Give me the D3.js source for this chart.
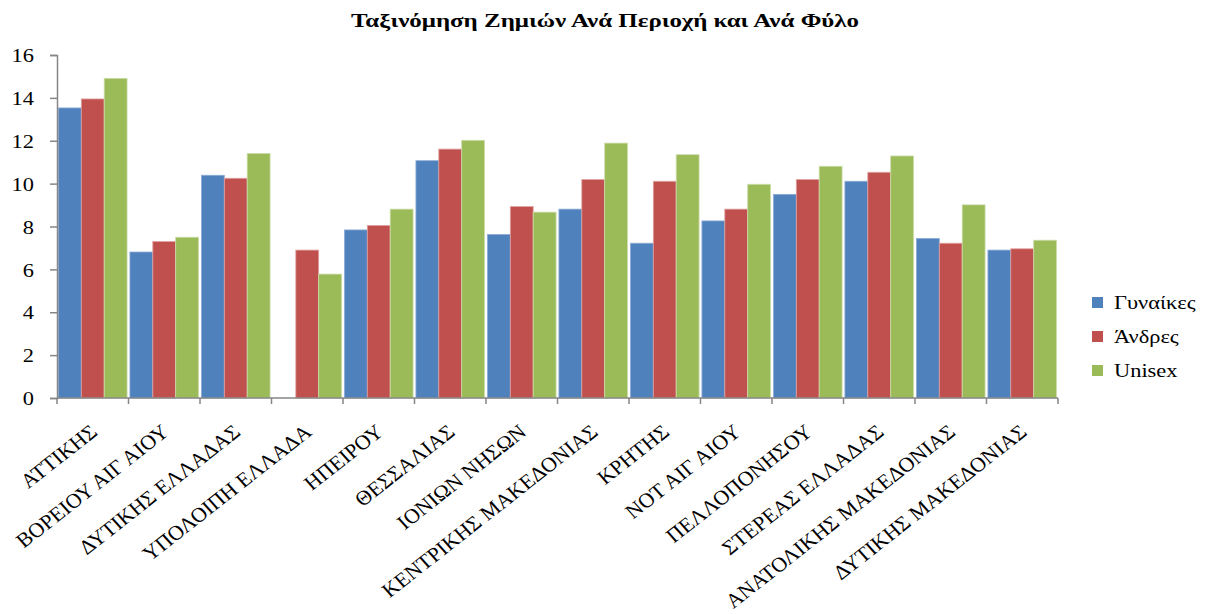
<!DOCTYPE html>
<html>
<head>
<meta charset="utf-8">
<script src="https://cdn.jsdelivr.net/npm/d3@7"></script>
<style>
  body { margin: 0; background: #fff; }
  svg text { font-family: "Liberation Serif", "Times New Roman", serif; fill: #000; }
</style>
</head>
<body>
<svg id="chart" width="1217" height="614"></svg>
<script>
// données
const regions = [
  "ΑΤΤΙΚΗΣ", "ΒΟΡΕΙΟΥ  ΑΙΓ ΑΙΟΥ", "ΔΥΤΙΚΗΣ ΕΛΛΑΔΑΣ", "ΥΠΟΛΟΙΠΗ  ΕΛΛΑΔΑ",
  "ΗΠΕΙΡΟΥ", "ΘΕΣΣΑΛΙΑΣ", "ΙΟΝΙΩΝ ΝΗΣΩΝ", "ΚΕΝΤΡΙΚΗΣ  ΜΑΚΕΔΟΝΙΑΣ",
  "ΚΡΗΤΗΣ", "ΝΟΤ  ΑΙΓ ΑΙΟΥ", "ΠΕΛΛΟΠΟΝΗΣΟΥ", "ΣΤΕΡΕΑΣ ΕΛΛΑΔΑΣ",
  "ΑΝΑΤΟΛΙΚΗΣ  ΜΑΚΕΔΟΝΙΑΣ", "ΔΥΤΙΚΗΣ ΜΑΚΕΔΟΝΙΑΣ"
];
const seriesNames = ["Γυναίκες", "Άνδρες", "Unisex"];
const gynaikes = [13.53, 6.81, 10.39, 0, 7.84, 11.07, 7.63, 8.81, 7.22, 8.26, 9.50, 10.11, 7.44, 6.90];
const andres   = [13.95, 7.30, 10.25, 6.90, 8.05, 11.61, 8.93, 10.19, 10.11, 8.81, 10.19, 10.53, 7.22, 6.96];
const unisex   = [14.91, 7.50, 11.41, 5.78, 8.81, 12.02, 8.67, 11.89, 11.35, 9.97, 10.81, 11.29, 9.01, 7.36];
const yTicks = [0, 2, 4, 6, 8, 10, 12, 14, 16];

const colors = ["#4F81BD", "#C0504D", "#9BBB59"];
const strokes = ["#8EACD6", "#E0A3A2", "#CCDDAA"];
const FONT = "Liberation Serif";
const SX = 1.18; // l'image d'origine est un peu étirée en largeur

const svg = d3.select("#chart");
const margin = { left: 57, right: 159, top: 55, bottom: 216 };
const W = 1217, H = 614;
const innerW = W - margin.left - margin.right;
const innerH = H - margin.top - margin.bottom;

// titre
svg.append("text")
  .attr("x", 605).attr("y", 27)
  .attr("text-anchor", "middle")
  .attr("font-family", FONT)
  .attr("font-size", 19).attr("font-weight", "bold")
  .attr("textLength", 508).attr("lengthAdjust", "spacingAndGlyphs")
  .text("Ταξινόμηση Ζημιών  Ανά Περιοχή και Ανά Φύλο");

const g = svg.append("g").attr("transform", `translate(${margin.left},${margin.top})`);

const x0 = d3.scaleBand().domain(regions).range([0, innerW]).paddingInner(0.04).paddingOuter(0.02);
const x1 = d3.scaleBand().domain(seriesNames).range([0, x0.bandwidth()]);
const y = d3.scaleLinear().domain([0, 16]).range([innerH, 0]);

const data = regions.map((r, i) => ({ region: r, values: [gynaikes[i], andres[i], unisex[i]] }));

// barres
const groups = g.selectAll(".grp").data(data).enter().append("g")
  .attr("transform", d => `translate(${x0(d.region)},0)`);
groups.selectAll("rect")
  .data(d => d.values.map((v, k) => ({ v, k })))
  .enter().append("rect")
  .filter(d => d.v > 0)
  .attr("x", d => x1(seriesNames[d.k]))
  .attr("width", x1.bandwidth())
  .attr("y", d => y(d.v))
  .attr("height", d => innerH - y(d.v))
  .attr("fill", d => colors[d.k])
  .attr("stroke", d => strokes[d.k])
  .attr("stroke-width", 0.8);

// axe Y
const yAxis = g.append("g")
  .call(d3.axisLeft(y).tickValues(yTicks).tickSize(7).tickPadding(0));
yAxis.select(".domain").attr("stroke", "#868686").attr("stroke-width", 1.5);
yAxis.selectAll(".tick line").attr("stroke", "#868686").attr("stroke-width", 1.5);
yAxis.selectAll(".tick text")
  .attr("font-size", 19).attr("font-family", FONT)
  .attr("x", null).attr("dy", "0.35em")
  .attr("transform", `translate(-23,0) scale(${SX},1)`);

// axe X
const xAxis = g.append("g").attr("transform", `translate(0,${innerH})`);
xAxis.append("line")
  .attr("x1", 0).attr("x2", innerW)
  .attr("stroke", "#868686").attr("stroke-width", 1.5);
const step = innerW / regions.length;
xAxis.selectAll(".xt").data(d3.range(regions.length + 1)).enter().append("line")
  .attr("x1", i => i * step).attr("x2", i => i * step)
  .attr("y1", 0).attr("y2", 6)
  .attr("stroke", "#868686").attr("stroke-width", 1.5);
xAxis.selectAll(".xl").data(regions).enter().append("text")
  .attr("text-anchor", "end")
  .attr("font-family", FONT)
  .attr("font-size", 20.5)
  .attr("transform", d => `translate(${x0(d) + x0.bandwidth() / 2 + 6},${36}) scale(1.07,1) rotate(-40)`)
  .text(d => d);

// légende
const legend = svg.append("g").attr("transform", "translate(1092,297)");
seriesNames.forEach((s, k) => {
  const row = legend.append("g").attr("transform", `translate(0,${k * 34})`);
  row.append("rect").attr("width", 11).attr("height", 11).attr("fill", colors[k]);
  row.append("text")
    .attr("font-family", FONT).attr("font-size", 19)
    .attr("transform", `translate(22,12) scale(${SX},1)`)
    .text(s);
});
</script>
</body>
</html>
